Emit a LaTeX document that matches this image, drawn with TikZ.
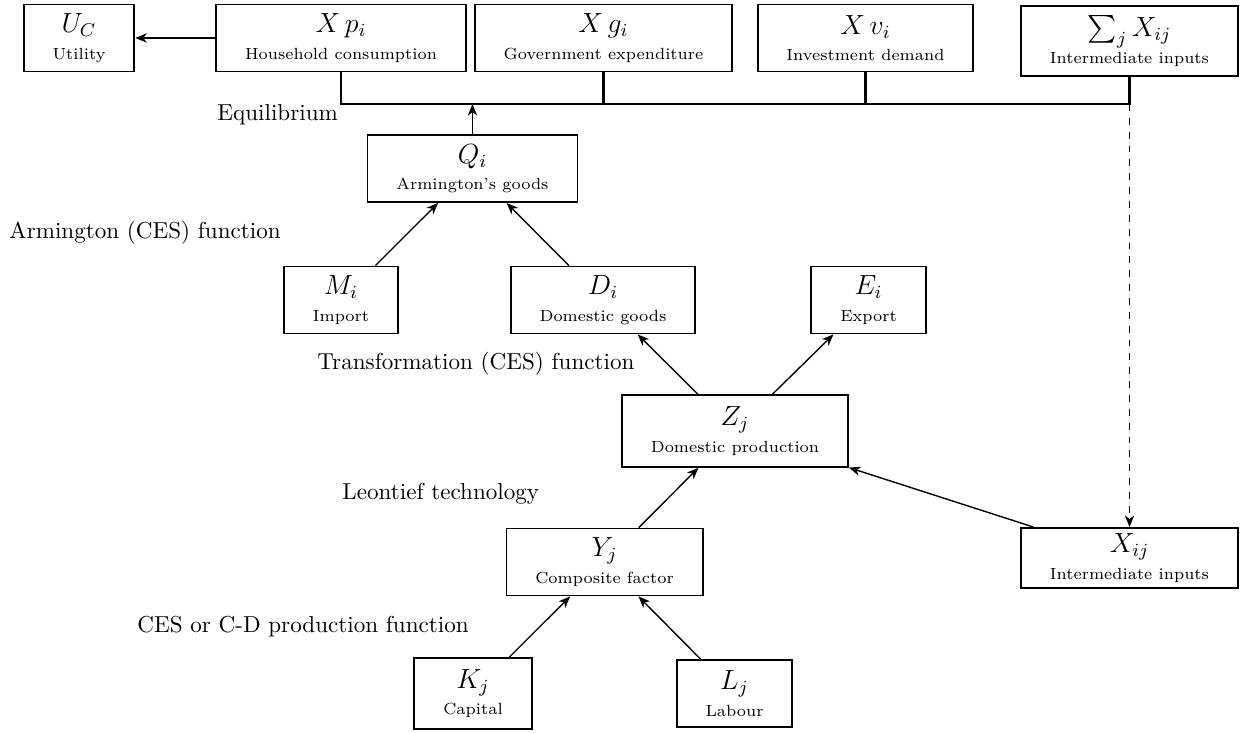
\documentclass[tikz,border=0pt]{standalone}
\usepackage{amsmath}
\usepackage{tikz}
\usetikzlibrary{positioning, arrows.meta}
\newcommand{\sublbl}{\fontsize{7}{8.5}\selectfont}

\begin{document}
\begin{tikzpicture}[x=0.433pt,y=-0.433pt,>={Stealth[length=5pt,width=4pt,inset=1.5pt]},
  b/.style={draw,line width=0.8pt,align=center,font=\large,inner xsep=12.5pt,inner ysep=2pt,minimum width=49pt,minimum height=29pt},
  l/.style={anchor=west,inner sep=0pt},
  a/.style={->,line width=0.6pt},
  bus/.style={line width=1.2pt}]
  \useasboundingbox (0,0) rectangle (1244,733);
  % final demand
  \node[b,minimum width=47pt](uc) at (79,38){$U_C$\\[-2.5pt]\sublbl Utility};
  \node[b](xp) at (341,38){$X\,p_i$\\[-2.5pt]\sublbl Household consumption};
  \node[b](xg) at (603.5,38){$X\,g_i$\\[-2.5pt]\sublbl Government expenditure};
  \node[b](xv) at (865.5,38){$X\,v_i$\\[-2.5pt]\sublbl Investment demand};
  \node[b,minimum height=30.5pt](sx) at (1129.5,41){$\sum_j X_{ij}$\\[-2.5pt]\sublbl Intermediate inputs};
  \coordinate (busR) at (1129.5,104);
  % goods and production
  \node[b](q) at (472.5,168.5){$Q_i$\\[-2.5pt]\sublbl Armington's goods};
  \node[b](m) at (341,300){$M_i$\\[-2.5pt]\sublbl Import};
  \node[b](d) at (603,300){$D_i$\\[-2.5pt]\sublbl Domestic goods};
  \node[b](e) at (868.5,300){$E_i$\\[-2.5pt]\sublbl Export};
  \node[b,minimum height=31pt](z) at (735,431){$Z_j$\\[-2.5pt]\sublbl Domestic production};
  \node[b](y) at (604.5,562){$Y_j$\\[-2.5pt]\sublbl Composite factor};
  \node[b,minimum height=26pt](xij) at (1129.5,558){$X_{ij}$\\[-2.5pt]\sublbl Intermediate inputs};
  \node[b,minimum height=30.5pt](k) at (473,693.5){$K_j$\\[-2.5pt]\sublbl Capital};
  \node[b](lab) at (734.5,693.5){$L_j$\\[-2.5pt]\sublbl Labour};
  % labels
  \node[l](eq) at (217,115){Equilibrium};
  \node[l](arm) at (9,233){Armington (CES) function};
  \node[l](tr) at (317,364){Transformation (CES) function};
  \node[l](leo) at (342,494){Leontief technology};
  \node[l](ces) at (137,627){CES or C-D production function};
  % connectors
  \draw[a](xp)--(uc);
  \draw[bus](xp.south)|-(busR)--(sx.south);
  \draw[bus](xg.south)--(xg.south|-busR);\draw[bus](xv.south)--(xv.south|-busR);
  \draw[a](q.north)--(q.north|-busR);
  \draw[a,dashed](busR)--(xij.north);
  \draw[a](m)--(q);\draw[a](d)--(q);
  \draw[a](z)--(d);\draw[a](z)--(e);
  \draw[a](y)--(z);\draw[a](xij)--(z);
  \draw[a](k)--(y);\draw[a](lab)--(y);
\end{tikzpicture}
\end{document}
